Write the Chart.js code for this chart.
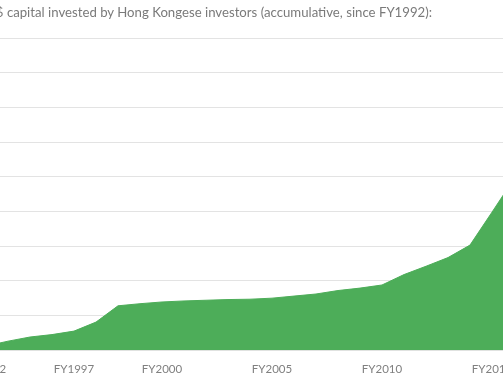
<!DOCTYPE html>
<html>
<head>
<meta charset="utf-8">
<script src="https://cdn.jsdelivr.net/npm/chart.js@4"></script>
<style>
  html, body { margin: 0; padding: 0; background: #fff; }
  body { width: 503px; height: 378px; overflow: hidden; position: relative; }
  #wrap { position: absolute; left: -60px; top: 0; width: 600px; height: 388px; }
  #title { position: absolute; left: -21px; top: 4px; white-space: nowrap;
           font-family: Lato, sans-serif; font-size: 13.2px; line-height: 16px; color: #7a7a7a; }
</style>
</head>
<body>
<div id="wrap"><canvas id="c" width="600" height="388"></canvas></div>
<div id="title"></div>
<script>
// Fiscal years (categories)
const categories = ['FY1992','FY1993','FY1994','FY1995','FY1996','FY1997','FY1998','FY1999','FY2000','FY2001',
  'FY2002','FY2003','FY2004','FY2005','FY2006','FY2007','FY2008','FY2009','FY2010','FY2011',
  'FY2012','FY2013','FY2014','FY2015','FY2016'];
// Tick labels as printed on the axis
const tickLabels = ['FY1992','','','','FY1997','','','','FY2000','',
  '','','','FY2005','','','','','FY2010','',
  '','','','FY2015',''];
// Accumulated capital (arbitrary units)
const capital = [1.2, 2.6, 3.8, 4.5, 5.5, 8.1, 12.8, 13.4, 13.9, 14.2,
  14.4, 14.6, 14.7, 15.0, 15.6, 16.2, 17.2, 17.9, 18.8, 21.8,
  24.2, 26.7, 30.3, 39.8, 49.4];
const yTicks = [0, 10, 20, 30, 40, 50, 60, 70, 80, 90];
const titleText = 'US$ capital invested by Hong Kongese investors (accumulative, since FY1992):';

document.getElementById('title').textContent = titleText;

new Chart(document.getElementById('c'), {
  type: 'line',
  data: {
    labels: categories,
    datasets: [{
      data: capital,
      fill: 'origin',
      backgroundColor: '#4DAD59',
      borderColor: '#4DAD59',
      borderWidth: 1,
      pointRadius: 0,
      tension: 0
    }]
  },
  options: {
    responsive: false,
    animation: false,
    devicePixelRatio: 1,
    layout: { padding: { left: 46, right: 26, top: 38, bottom: 0 } },
    plugins: {
      legend: { display: false },
      tooltip: { enabled: false },
      title: { display: false }
    },
    scales: {
      x: {
        offset: false,
        grid: { display: false, drawTicks: false },
        border: { display: false },
        ticks: {
          autoSkip: false,
          maxRotation: 0,
          padding: 12,
          color: '#808080',
          font: { family: 'Lato', size: 11.5 },
          callback: (v, i) => tickLabels[i]
        }
      },
      y: {
        min: yTicks[0],
        max: yTicks[yTicks.length - 1],
        afterBuildTicks: s => { s.ticks = yTicks.map(v => ({ value: v })); },
        grid: { color: '#e3e3e3', lineWidth: 1, drawTicks: false },
        border: { display: false },
        ticks: { display: false }
      }
    }
  }
});
</script>
</body>
</html>
